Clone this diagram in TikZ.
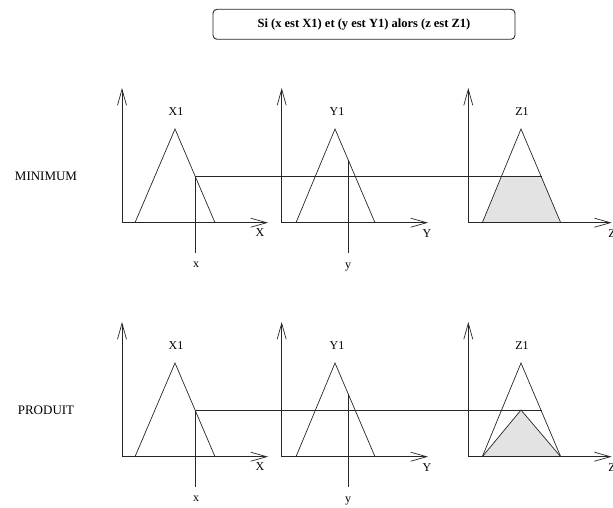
\documentclass[tikz,border=0pt]{standalone}
\usepackage{fontspec}
\setmainfont{Liberation Serif}
\usetikzlibrary{arrows.meta}
\begin{document}
\begin{tikzpicture}[x=1pt,y=-1pt,
  ln/.style={line width=0.7pt, draw=black!85},
  axis/.style={ln, -{Straight Barb[length=16pt,width=9pt,line width=0.7pt]}},
  lbl/.style={font=\fontsize{12}{14}\selectfont, inner sep=0pt},
  rowlbl/.style={font=\fontsize{13}{15}\selectfont, inner sep=0pt},
  shade/.style={fill=black!11, draw=none}]
\useasboundingbox (0,0) rectangle (613,508);
\node[ln, draw, line width=0.9pt, rounded corners=4pt, minimum width=302pt, minimum height=30pt,
  font=\bfseries\fontsize{12.5}{14}\selectfont] (title) at (364,24.3)
  {Si (x est X1) et (y est Y1) alors (z est Z1)};
\foreach \dy/\rowname/\kind in {0/MINIMUM/1, 234/PRODUIT/2}{
\begin{scope}[shift={(0,\dy)}]
  % shaded result
  \ifnum\kind=1
    \fill[shade] (502,176) -- (541.4,176) -- (560.7,222.7) -- (482.3,222.7) -- cycle;
  \else
    \fill[shade] (482.3,222.7) -- (521,176) -- (560.7,222.7) -- cycle;
    \draw[ln] (482.3,222.7) -- (521,176) -- (560.7,222.7);
  \fi
  % axes
  \coordinate (ox\kind) at (122,222.7);
  \coordinate (oy\kind) at (281.7,222.7);
  \coordinate (oz\kind) at (468.3,222.7);
  \draw[axis] (ox\kind) -- (122,88);
  \draw[axis] (ox\kind) -- (268,222.7);
  \draw[axis] (oy\kind) -- (281.7,88);
  \draw[axis] (oy\kind) -- (428,222.7);
  \draw[axis] (oz\kind) -- (468.3,88);
  \draw[axis] (oz\kind) -- (611.7,222.7);
  % membership functions
  \draw[ln] (135,222.7) -- (175,129) -- (215,222.7);
  \draw[ln] (296,222.7) -- (335,129) -- (375,222.7);
  \draw[ln] (482.3,222.7) -- (521,129) -- (560.7,222.7);
  % inputs
  \coordinate (hx\kind) at (195.7,176);
  \coordinate (hz\kind) at (541.7,176);
  \draw[ln] (hx\kind) -- (hz\kind);
  \draw[ln] (hx\kind) -- (195.7,253);
  \draw[ln] (348.3,160) -- (348.3,253);
  % labels
  \node[lbl] (lx1\kind) at (176,112) {X1};
  \node[lbl] (ly1\kind) at (337,112) {Y1};
  \node[lbl] (lz1\kind) at (522,112) {Z1};
  \node[lbl] (lX\kind) at (260,233) {X};
  \node[lbl] (lY\kind) at (427,234) {Y};
  \node[lbl] (lZ\kind) at (612,234) {Z};
  \node[lbl] (lx\kind) at (196,265) {x};
  \node[lbl] (ly\kind) at (348,267) {y};
  \node[rowlbl] (row\kind) at (46,176) {\rowname};
\end{scope}
}
\end{tikzpicture}
\end{document}
